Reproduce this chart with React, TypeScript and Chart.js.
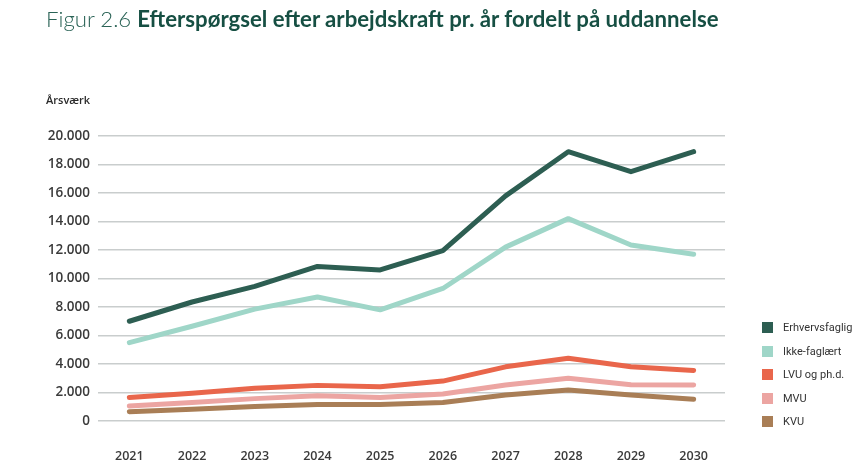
import React, { useEffect, useRef } from "react";
import { Chart, registerables } from "chart.js";

Chart.register(...registerables);

const years = ["2021", "2022", "2023", "2024", "2025", "2026", "2027", "2028", "2029", "2030"];
const erhvervsfaglig = [7000, 8350, 9450, 10850, 10600, 11950, 15800, 18900, 17500, 18900];
const ikkeFaglaert = [5500, 6650, 7850, 8700, 7800, 9300, 12200, 14200, 12350, 11700];
const lvu = [1650, 1950, 2300, 2500, 2400, 2800, 3800, 4400, 3800, 3550];
const mvu = [1050, 1300, 1570, 1780, 1650, 1900, 2530, 3000, 2550, 2520];
const kvu = [650, 820, 1020, 1150, 1150, 1300, 1820, 2180, 1820, 1520];
const seriesNames = ["Erhvervsfaglig", "Ikke-faglært", "LVU og ph.d.", "MVU", "KVU"];
const seriesColors = ["#2d5e52", "#9fd6c8", "#e9664b", "#eca5a2", "#a97e56"];
const seriesValues = [erhvervsfaglig, ikkeFaglaert, lvu, mvu, kvu];
const yTicks = [0, 2000, 4000, 6000, 8000, 10000, 12000, 14000, 16000, 18000, 20000];

export default function App() {
  const canvasRef = useRef<HTMLCanvasElement | null>(null);

  useEffect(() => {
    document.body.style.margin = "0";
    const ctx = canvasRef.current;
    if (!ctx) return;
    const chart = new Chart(ctx, {
      type: "line",
      data: {
        labels: years,
        datasets: seriesNames.map((name, i) => ({
          label: name,
          data: seriesValues[i],
          borderColor: seriesColors[i],
          backgroundColor: seriesColors[i],
          borderWidth: 5,
          pointRadius: 0,
          tension: 0,
          borderCapStyle: "round" as const,
          borderJoinStyle: "round" as const,
          fill: false,
        })),
      },
      options: {
        animation: false,
        responsive: false,
        maintainAspectRatio: false,
        layout: { padding: { left: 0, right: 142, top: 136, bottom: 0 } },
        plugins: {
          legend: { display: false },
          tooltip: { enabled: false },
          title: { display: false },
        },
        scales: {
          x: {
            type: "category",
            offset: true,
            grid: { display: false },
            border: { display: false },
            ticks: {
              padding: 20,
              color: "#3a3a3a",
              font: { family: "Open Sans", size: 12.5, weight: 600 },
              maxRotation: 0,
            },
            afterFit: (s: any) => {
              s.height = 54;
            },
          },
          y: {
            min: 0,
            max: 20000,
            afterBuildTicks: (s: any) => {
              s.ticks = yTicks.map((v) => ({ value: v }));
            },
            grid: { color: "#c9cdcd", lineWidth: 1.5, drawTicks: false },
            border: { display: false },
            ticks: {
              padding: 8,
              color: "#3a3a3a",
              font: { family: "Open Sans", size: 13.5, weight: 600 },
              callback: (v: any) => Number(v).toLocaleString("de-DE"),
            },
            afterFit: (s: any) => {
              s.width = 98;
            },
          },
        },
      },
    });
    return () => chart.destroy();
  }, []);

  return (
    <div style={{ position: "relative", width: 867, height: 475, background: "#fff", overflow: "hidden" }}>
      <canvas ref={canvasRef} width={867} height={475} style={{ position: "absolute", left: 0, top: 0 }} />
      <div
        style={{
          position: "absolute",
          left: 46,
          top: 5,
          fontFamily: "Lato",
          fontSize: 22.2,
          color: "#164f43",
          whiteSpace: "nowrap",
        }}
      >
        <span style={{ fontWeight: 300, color: "#2a6356" }}>Figur 2.6 </span>
        <span style={{ fontWeight: 700 }}>Efterspørgsel efter arbejdskraft pr. år fordelt på uddannelse</span>
      </div>
      <div
        style={{
          position: "absolute",
          left: 46,
          top: 92,
          fontFamily: "Open Sans",
          fontSize: 11,
          fontWeight: 600,
          color: "#2a2a2a",
        }}
      >
        Årsværk
      </div>
      <div style={{ position: "absolute", left: 762, top: 316 }}>
        {seriesNames.map((name, i) => (
          <div key={name} style={{ display: "flex", alignItems: "center", height: 23.5 }}>
            <div style={{ width: 11, height: 11, background: seriesColors[i], marginRight: 10 }} />
            <span style={{ fontFamily: "Roboto", fontSize: 11, color: "#333" }}>{name}</span>
          </div>
        ))}
      </div>
    </div>
  );
}
